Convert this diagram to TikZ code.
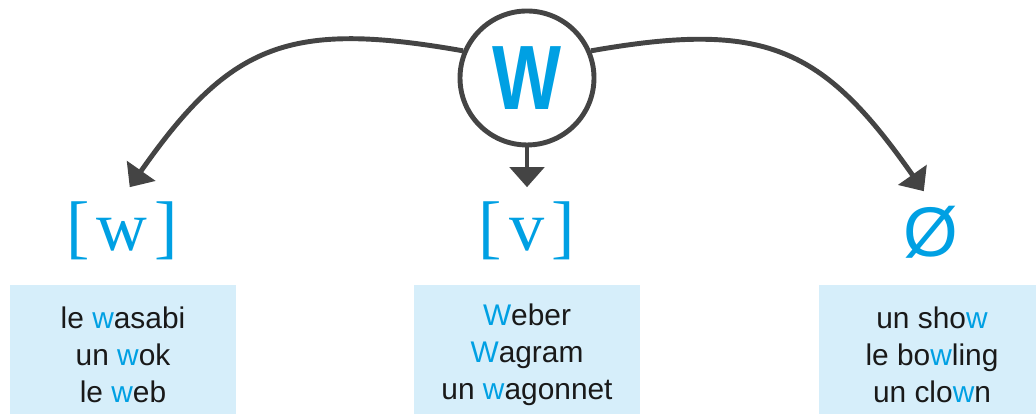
\documentclass[tikz,border=0pt]{standalone}
\usepackage{fontspec}
\setmainfont{Liberation Sans}
\newfontfamily\phonfont{Liberation Serif}
\usetikzlibrary{positioning}
\usetikzlibrary{arrows.meta}
\definecolor{wCyan}{RGB}{0,160,227}
\definecolor{arrowGray}{RGB}{68,68,68}
\definecolor{boxBlue}{RGB}{214,238,250}
\definecolor{wordBlack}{RGB}{25,25,25}
\newcommand{\cw}[1]{\textcolor{wCyan}{#1}}

\begin{document}
\begin{tikzpicture}

          \tikzstyle{letterNode} = [circle, draw=arrowGray, line width=1.4pt, minimum size=1.34cm, inner sep=0pt];
          \tikzstyle{soundNode} = [wCyan, inner xsep=0pt, inner ysep=0.14cm];
          \tikzstyle{wordBox} = [fill=boxBlue, minimum width=2.26cm, minimum height=1.39cm, align=center, text=wordBlack, font=\fontsize{8.5}{10.6}\selectfont];

          \tikzstyle{soundEdge} = [line width=1.4pt, arrowGray, -{Triangle[width=0.34cm,length=0.2cm]}];

          \useasboundingbox (0,0) rectangle (10.36,4.14);

          \node[letterNode] (w) at (5.27,3.36) {\fontsize{26}{26}\selectfont\bfseries\scalebox{0.8}[1]{\cw{W}}};

          \node[soundNode, font=\phonfont\fontsize{20}{20}\selectfont] (semi) at (1.22,1.83) {[\hspace{2pt}w\hspace{2pt}]};
          \node[soundNode, font=\phonfont\fontsize{20}{20}\selectfont] (fric) at (5.27,1.83) {[\hspace{2pt}v\hspace{2pt}]};
          \node[soundNode, font=\fontsize{20}{20}\selectfont] (mute) at (9.31,1.82) {Ø};

          \node[wordBox] (semiwords) at (1.23,0.59) {le \cw{w}asabi\\un \cw{w}ok\\le \cw{w}eb};
          \node[wordBox] (fricwords) at (5.27,0.59) {\cw{W}eber\\\cw{W}agram\\un \cw{w}agonnet};
          \node[wordBox] (mutewords) at (9.32,0.59) {un sho\cw{w}\\le bo\cw{w}ling\\un clo\cw{w}n};

          \draw[soundEdge] (w.157) to[out=170, in=55, looseness=1.25] (semi.80);
          \draw[soundEdge] (w) -- (fric);
          \draw[soundEdge] (w.23) to[out=10, in=125, looseness=1.25] (mute.100);
        \end{tikzpicture}
\end{document}
